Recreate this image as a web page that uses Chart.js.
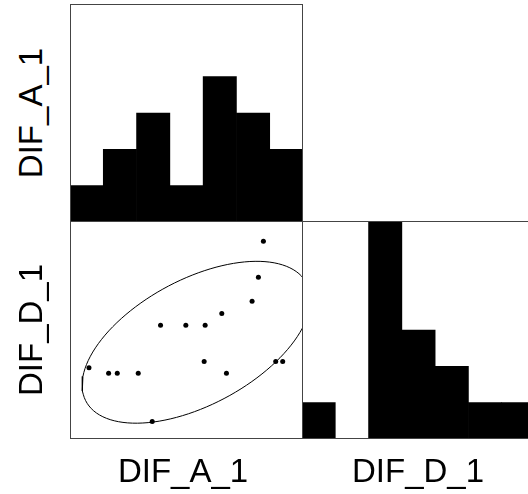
<!DOCTYPE html>
<html>
<head>
<meta charset="utf-8">
<script src="https://cdn.jsdelivr.net/npm/chart.js@4/dist/chart.umd.min.js"></script>
<style>
  html, body { margin: 0; padding: 0; background: #fff; overflow: hidden; width: 528px; height: 494px; }
  .panel { position: absolute; }
  .lbl { position: absolute; width: 200px; height: 40px; line-height: 40px; text-align: center;
         font-family: "Liberation Sans", Arial, sans-serif; font-size: 33px; color: #000; white-space: nowrap; }
  .rot { transform: rotate(-90deg); }
</style>
</head>
<body>
<div class="panel" style="left:70px;top:4px;"><canvas id="histA" width="233" height="218"></canvas></div>
<div class="panel" style="left:70px;top:221px;"><canvas id="scat" width="233" height="218"></canvas></div>
<div class="panel" style="left:302px;top:221px;"><canvas id="histD" width="233" height="218"></canvas></div>

<div class="lbl rot" style="left:-69.5px;top:93px;">DIF_A_1</div>
<div class="lbl rot" style="left:-69.5px;top:310px;">DIF_D_1</div>
<div class="lbl" style="left:83px;top:451px;">DIF_A_1</div>
<div class="lbl" style="left:318px;top:451px;">DIF_D_1</div>

<script>
// ---- data (axis units = histogram bins) ----
const varNames = ['DIF_A_1', 'DIF_D_1'];
const difA = [0.57, 1.16, 1.42, 2.05, 2.72, 3.48, 4.06, 4.56, 5.47, 5.66, 5.81, 4.03, 4.70, 6.18, 6.39, 2.47];
const difD = [2.29, 2.11, 2.11, 2.11, 3.65, 3.65, 3.65, 4.03, 4.42, 5.19, 6.35, 2.49, 2.11, 2.49, 2.49, 0.56];
const binLabels = ['0-1', '1-2', '2-3', '3-4', '4-5', '5-6', '6-7'];
const countsA = [1, 2, 3, 1, 4, 3, 2];
const countsD = [1, 0, 8, 3, 2, 1, 1];
const histMax = 6;
const scatMin = 0, scatMax = 7;
const ellipseScale = 1.82;

// ---- panel border plugin ----
const frame = {
  id: 'frame',
  afterDatasetsDraw(chart) {
    const c = chart.ctx, a = chart.chartArea;
    c.save();
    c.strokeStyle = '#444';
    c.lineWidth = 1;
    c.strokeRect(a.left + 0.5, a.top + 0.5, a.right - a.left - 1, a.bottom - a.top - 1);
    c.restore();
  }
};

const common = {
  responsive: false,
  devicePixelRatio: 1,
  animation: false,
  layout: { padding: 0, autoPadding: false },
  plugins: { legend: { display: false }, tooltip: { enabled: false }, title: { display: false } },
  events: []
};

function histChart(id, counts) {
  return new Chart(document.getElementById(id), {
    type: 'bar',
    data: {
      labels: binLabels,
      datasets: [{ data: counts, backgroundColor: '#000', borderWidth: 0,
                   barPercentage: 1, categoryPercentage: 1 }]
    },
    options: Object.assign({}, common, {
      scales: {
        x: { display: false },
        y: { display: false, min: 0, max: histMax }
      }
    }),
    plugins: [frame]
  });
}

histChart('histA', countsA);
histChart('histD', countsD);

// ---- correlation ellipse computed from the data ----
function mean(v) { return v.reduce((s, x) => s + x, 0) / v.length; }
const mx = mean(difA), my = mean(difD);
const n = difA.length;
let sxx = 0, syy = 0, sxy = 0;
for (let i = 0; i < n; i++) {
  sxx += (difA[i] - mx) ** 2; syy += (difD[i] - my) ** 2; sxy += (difA[i] - mx) * (difD[i] - my);
}
const sdx = Math.sqrt(sxx / (n - 1)), sdy = Math.sqrt(syy / (n - 1));
const r = sxy / Math.sqrt(sxx * syy);
const ell = [];
const seg = 120;
for (let k = 0; k <= seg; k++) {
  const t = k * 2 * Math.PI / seg;
  const u = Math.cos(t) * Math.sqrt(1 + r) / Math.SQRT2;
  const w = Math.sin(t) * Math.sqrt(1 - r) / Math.SQRT2;
  ell.push({ x: mx + ellipseScale * sdx * (u - w), y: my + ellipseScale * sdy * (u + w) });
}

new Chart(document.getElementById('scat'), {
  type: 'scatter',
  data: {
    datasets: [
      { data: difA.map((x, i) => ({ x: x, y: difD[i] })), pointRadius: 2.5, pointBackgroundColor: '#000',
        pointBorderWidth: 0, showLine: false },
      { data: ell, showLine: true, pointRadius: 0, borderColor: '#000', borderWidth: 1, fill: false, tension: 0 }
    ]
  },
  options: Object.assign({}, common, {
    scales: {
      x: { type: 'linear', display: false, min: scatMin, max: scatMax },
      y: { type: 'linear', display: false, min: scatMin, max: scatMax }
    }
  }),
  plugins: [frame]
});
</script>
</body>
</html>
